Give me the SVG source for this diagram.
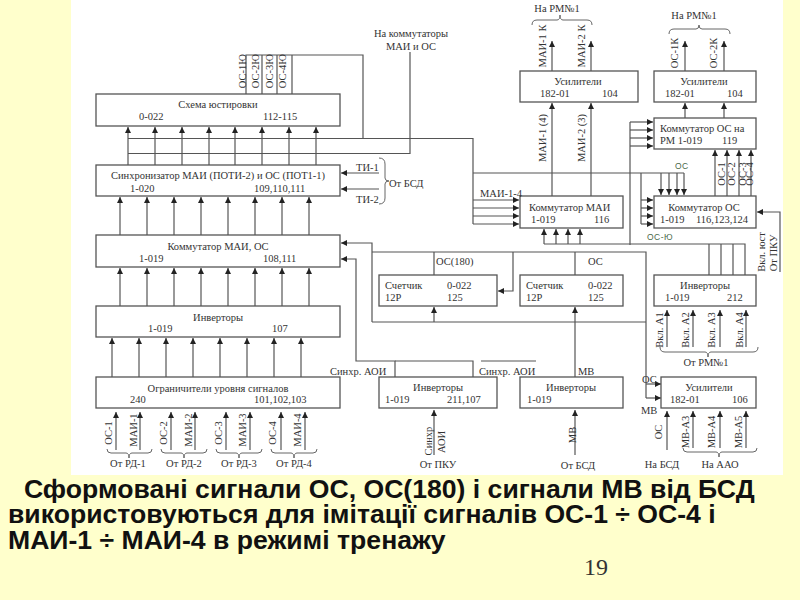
<svg xmlns="http://www.w3.org/2000/svg" width="800" height="600" viewBox="0 0 800 600">
<style>
.bg{fill:#ffffcc}
.b{fill:#fff;stroke:#555;stroke-width:1.3}
.w{fill:none;stroke:#555;stroke-width:1.2}
.a{fill:none;stroke:#555;stroke-width:1.2;marker-end:url(#h)}
.br{fill:none;stroke:#666;stroke-width:1}
text{font-family:"Liberation Serif",serif;font-size:10.5px;fill:#333}
.m{text-anchor:middle}
.g{font-family:"Liberation Sans",sans-serif;font-size:8.5px;fill:#4a6a4a;letter-spacing:.5px}
.c{font-family:"Liberation Sans",sans-serif;font-weight:bold;font-size:26.6px;fill:#111}
.n{font-family:"Liberation Serif",serif;font-size:24px;fill:#333}
</style>
<defs>
<marker id="h" markerUnits="userSpaceOnUse" markerWidth="7" markerHeight="6" refX="6" refY="3" orient="auto"><path d="M0 0L6 3L0 6z" fill="#222"/></marker>
</defs>
<rect class="bg" width="800" height="600"/>
<rect x="71" y="0" width="712" height="475" fill="#fff"/>

<g id="connectors">
<path class="w" d="M246 94V55H363V138M262 94V55M277 94V55M292 94V55"/>
<path class="w" d="M128 138.500H473V224M128 153.500H410V52M473 173H684M641 173V224"/>
<path class="a" d="M128 165V127"/><path class="a" d="M155 165V127"/><path class="a" d="M182 165V127"/><path class="a" d="M209 165V127"/><path class="a" d="M235 165V127"/><path class="a" d="M262 165V127"/><path class="a" d="M289 165V127"/><path class="a" d="M316 165V127"/>
<path class="a" d="M120 235V197"/><path class="a" d="M147 235V197"/><path class="a" d="M174 235V197"/><path class="a" d="M201 235V197"/><path class="a" d="M228 235V197"/><path class="a" d="M255 235V197"/><path class="a" d="M282 235V197"/><path class="a" d="M309 235V197"/>
<path class="a" d="M120 306V268"/><path class="a" d="M147 306V268"/><path class="a" d="M174 306V268"/><path class="a" d="M201 306V268"/><path class="a" d="M228 306V268"/><path class="a" d="M255 306V268"/><path class="a" d="M282 306V268"/><path class="a" d="M309 306V268"/>
<path class="a" d="M112 377V338"/><path class="a" d="M139 377V338"/><path class="a" d="M166 377V338"/><path class="a" d="M193 377V338"/><path class="a" d="M220 377V338"/><path class="a" d="M247 377V338"/><path class="a" d="M274 377V338"/><path class="a" d="M301 377V338"/>
<path class="a" d="M116 450V412"/><path class="a" d="M140 450V412"/><path class="a" d="M171 450V412"/><path class="a" d="M195 450V412"/><path class="a" d="M226 450V412"/><path class="a" d="M250 450V412"/><path class="a" d="M281 450V412"/><path class="a" d="M305 450V412"/>
<path class="a" d="M379 173H341"/><path class="a" d="M379 189H341"/>
<path class="a" d="M372 322V243H341"/><path class="a" d="M395 377V361H356V259H341"/>
<path class="w" d="M372 252H646V398M372 322H646M395 361H473V377M481 361H536"/>
<path class="a" d="M434 322V307"/><path class="w" d="M434 252V275M575 252V275"/>
<path class="a" d="M513 252V291H498"/>
<path class="a" d="M434 455V410"/><path class="a" d="M575 377V307"/><path class="a" d="M575 455V410"/>
<path class="a" d="M552 196V103"/><path class="a" d="M591 196V103"/><path class="a" d="M552 71V41"/><path class="a" d="M591 71V41"/>
<path class="a" d="M473 200H519"/><path class="a" d="M473 208H519"/><path class="a" d="M473 216H519"/><path class="a" d="M473 224H519"/>
<path class="a" d="M661 173V195"/><path class="a" d="M669 173V195"/><path class="a" d="M677 173V195"/><path class="a" d="M684 173V195"/>
<path class="a" d="M641 200H653"/><path class="a" d="M641 208H653"/><path class="a" d="M641 216H653"/><path class="a" d="M641 224H653"/>
<path class="w" d="M630 122V245"/>
<path class="a" d="M630 122H653"/><path class="a" d="M630 130H653"/><path class="a" d="M630 138H653"/><path class="a" d="M630 146H653"/>
<path class="w" d="M544 244H745V275M709 244V275M721 244V275M733 244V275"/>
<path class="a" d="M544 244V229"/><path class="a" d="M556 244V229"/><path class="a" d="M568 244V229"/><path class="a" d="M580 244V229"/>
<path class="a" d="M780 272V212H757"/>
<path class="a" d="M715 196V150"/><path class="a" d="M727 196V150"/><path class="a" d="M739 196V150"/><path class="a" d="M751 196V150"/>
<path class="a" d="M685 118V103"/><path class="a" d="M724 118V103"/><path class="a" d="M685 71V41"/><path class="a" d="M724 71V41"/>
<path class="a" d="M646 384H661"/><path class="a" d="M646 398H661"/>
<path class="a" d="M667 450V411"/><path class="a" d="M693 448V411"/><path class="a" d="M720 448V411"/><path class="a" d="M746 448V411"/>
<path class="a" d="M667 347V310"/><path class="a" d="M693 347V310"/><path class="a" d="M720 347V310"/><path class="a" d="M746 347V310"/>
<path class="br" d="M107 449q0 4 4 4H126q3 0 3 5q0-5 3-5H148q4 0 4-4"/>
<path class="br" d="M161 449q0 4 4 4H181q3 0 3 5q0-5 3-5H203q4 0 4-4"/>
<path class="br" d="M216 449q0 4 4 4H236q3 0 3 5q0-5 3-5H258q4 0 4-4"/>
<path class="br" d="M271 449q0 4 4 4H291q3 0 3 5q0-5 3-5H313q4 0 4-4"/>
<path class="br" d="M379 158q6 0 6 6V178q0 3 4 3q-4 0-4 3V198q0 6-6 6"/>
<path class="br" d="M532 25q0-5 5-5H557q3 0 3-5q0 5 3 5H587q5 0 5 5"/>
<path class="br" d="M669 34q0-5 5-5H696q3 0 3-4q0 4 3 4H725q5 0 5 5"/>
<path class="br" d="M660 347q0 5 5 5H705q3 0 3 5q0-5 3-5H753q5 0 5-5"/>
<path class="br" d="M683 448q0 4 4 4H716q3 0 3 5q0-5 3-5H753q4 0 4-4"/>
</g>

<g id="n-justirovka"><rect class="b" x="96" y="94" width="244" height="32"/><text class="m" x="218" y="108">Схема юстировки</text><text x="139" y="120">0-022</text><text x="263" y="120">112-115</text></g>
<g id="n-sync"><rect class="b" x="96" y="165" width="244" height="31"/><text class="m" x="218" y="179">Синхронизатор МАИ (ПОТИ-2) и ОС (ПОТ1-1)</text><text x="130" y="192">1-020</text><text x="254" y="192">109,110,111</text></g>
<g id="n-komm"><rect class="b" x="96" y="235" width="244" height="32"/><text class="m" x="218" y="250">Коммутатор МАИ, ОС</text><text x="139" y="262">1-019</text><text x="263" y="262">108,111</text></g>
<g id="n-inv1"><rect class="b" x="96" y="306" width="244" height="31"/><text class="m" x="218" y="321">Инверторы</text><text x="148" y="332">1-019</text><text x="272" y="332">107</text></g>
<g id="n-ogr"><rect class="b" x="96" y="377" width="244" height="31"/><text class="m" x="218" y="392">Ограничители уровня сигналов</text><text x="130" y="403">240</text><text x="254" y="403">101,102,103</text></g>
<g id="n-sch1"><rect class="b" x="379" y="275" width="118" height="31"/><text x="385" y="289">Счетчик</text><text x="447" y="289">0-022</text><text x="385" y="301">12Р</text><text x="447" y="301">125</text></g>
<g id="n-sch2"><rect class="b" x="520" y="275" width="103" height="31"/><text x="526" y="289">Счетчик</text><text x="588" y="289">0-022</text><text x="526" y="301">12Р</text><text x="588" y="301">125</text></g>
<g id="n-inv2"><rect class="b" x="379" y="377" width="118" height="31"/><text class="m" x="438" y="391">Инверторы</text><text x="385" y="403">1-019</text><text x="447" y="403">211,107</text></g>
<g id="n-inv3"><rect class="b" x="520" y="377" width="103" height="31"/><text class="m" x="571" y="391">Инверторы</text><text x="527" y="403">1-019</text></g>
<g id="n-usil1"><rect class="b" x="520" y="71" width="118" height="31"/><text class="m" x="578" y="85">Усилители</text><text x="540" y="97">182-01</text><text x="602" y="97">104</text></g>
<g id="n-usil2"><rect class="b" x="654" y="71" width="102" height="31"/><text class="m" x="704" y="85">Усилители</text><text x="665" y="97">182-01</text><text x="727" y="97">104</text></g>
<g id="n-kommrm"><rect class="b" x="654" y="118" width="102" height="31"/><text x="660" y="132">Коммутатор ОС на</text><text x="660" y="144">РМ 1-019</text><text x="722" y="144">119</text></g>
<g id="n-kommos"><rect class="b" x="654" y="196" width="102" height="32"/><text class="m" x="704" y="211">Коммутатор ОС</text><text x="660" y="223">1-019</text><text x="696" y="223">116,123,124</text></g>
<g id="n-kommmai"><rect class="b" x="520" y="196" width="103" height="32"/><text x="529" y="211">Коммутатор МАИ</text><text x="531" y="223">1-019</text><text x="594" y="223">116</text></g>
<g id="n-inv4"><rect class="b" x="654" y="275" width="102" height="31"/><text class="m" x="705" y="289">Инверторы</text><text x="665" y="301">1-019</text><text x="727" y="301">212</text></g>
<g id="n-usil3"><rect class="b" x="661" y="377" width="95" height="31"/><text class="m" x="709" y="391">Усилители</text><text x="670" y="403">182-01</text><text x="732" y="403">106</text></g>

<g id="labels">
<text class="m" x="411" y="37">На коммутаторы</text><text class="m" x="411" y="50">МАИ и ОС</text>
<text class="m" x="557" y="12">На РМ№1</text><text class="m" x="694" y="19">На РМ№1</text>
<text x="480" y="197">МАИ-1-4</text>
<text x="356" y="171">ТИ-1</text><text x="356" y="203">ТИ-2</text><text x="389" y="187">От БСД</text>
<text class="m" x="128" y="467">От РД-1</text><text class="m" x="184" y="467">От РД-2</text><text class="m" x="239" y="467">От РД-3</text><text class="m" x="294" y="467">От РД-4</text>
<text class="g" x="675" y="169">ОС</text><text class="g" x="647" y="240">ОС-Ю</text>
<text x="436" y="265">ОС(180)</text><text x="588" y="265">ОС</text>
<text class="m" x="706" y="366">От РМ№1</text>
<text x="330" y="375">Синхр. АОИ</text><text x="479" y="375">Синхр. АОИ</text><text x="578" y="375">МВ</text>
<text x="642" y="383">ОС</text><text x="641" y="414">МВ</text>
<text class="m" x="438" y="468">От ПКУ</text><text class="m" x="578" y="469">От БСД</text><text class="m" x="662" y="468">На БСД</text><text class="m" x="720" y="468">На ААО</text>
<text class="m" transform="translate(246 71)rotate(-90)">ОС-1Ю</text>
<text class="m" transform="translate(259 71)rotate(-90)">ОС-2Ю</text>
<text class="m" transform="translate(273 71)rotate(-90)">ОС-3Ю</text>
<text class="m" transform="translate(286 71)rotate(-90)">ОС-4Ю</text>
<text class="m" transform="translate(112 433)rotate(-90)">ОС-1</text><text class="m" transform="translate(137 430)rotate(-90)">МАИ-1</text>
<text class="m" transform="translate(167 433)rotate(-90)">ОС-2</text><text class="m" transform="translate(192 430)rotate(-90)">МАИ-2</text>
<text class="m" transform="translate(222 433)rotate(-90)">ОС-3</text><text class="m" transform="translate(246 430)rotate(-90)">МАИ-3</text>
<text class="m" transform="translate(276 433)rotate(-90)">ОС-4</text><text class="m" transform="translate(301 430)rotate(-90)">МАИ-4</text>
<text class="m" transform="translate(546 46)rotate(-90)">МАИ-1 К</text><text class="m" transform="translate(585 46)rotate(-90)">МАИ-2 К</text>
<text class="m" transform="translate(546 138)rotate(-90)">МАИ-1 (4)</text><text class="m" transform="translate(585 138)rotate(-90)">МАИ-2 (3)</text>
<text class="m" transform="translate(678 53)rotate(-90)">ОС-1К</text><text class="m" transform="translate(717 53)rotate(-90)">ОС-2К</text>
<text class="m" transform="translate(725 174)rotate(-90)">ОС-1</text><text class="m" transform="translate(735 174)rotate(-90)">ОС-2</text><text class="m" transform="translate(746 174)rotate(-90)">ОС-3</text><text class="m" transform="translate(753 174)rotate(-90)">ОС-4</text>
<text class="m" transform="translate(765 252)rotate(-90)">Вкл. юст</text><text class="m" transform="translate(777 253)rotate(-90)">От ПКУ</text>
<text class="m" transform="translate(663 330)rotate(-90)">Вкл. А1</text><text class="m" transform="translate(689 330)rotate(-90)">Вкл. А2</text><text class="m" transform="translate(715 330)rotate(-90)">Вкл. А3</text><text class="m" transform="translate(743 330)rotate(-90)">Вкл. А4</text>
<text class="m" transform="translate(432 441)rotate(-90)">Синхр</text><text class="m" transform="translate(445 442)rotate(-90)">АОИ</text>
<text class="m" transform="translate(576 435)rotate(-90)">МВ</text>
<text class="m" transform="translate(662 432)rotate(-90)">ОС</text>
<text class="m" transform="translate(689 432)rotate(-90)">МВ-А3</text><text class="m" transform="translate(715 432)rotate(-90)">МВ-А4</text><text class="m" transform="translate(742 432)rotate(-90)">МВ-А5</text>
</g>

<g id="caption">
<text class="c" x="24" y="497.500">Сформовані сигнали ОС, ОС(180) і сигнали МВ від БСД</text>
<text class="c" x="8" y="523">використовуються для імітації сигналів ОС-1 ÷ ОС-4 і</text>
<text class="c" x="8" y="548.500">МАИ-1 ÷ МАИ-4 в режимі тренажу</text>
<text class="n" x="584" y="575">19</text>
</g>
</svg>
